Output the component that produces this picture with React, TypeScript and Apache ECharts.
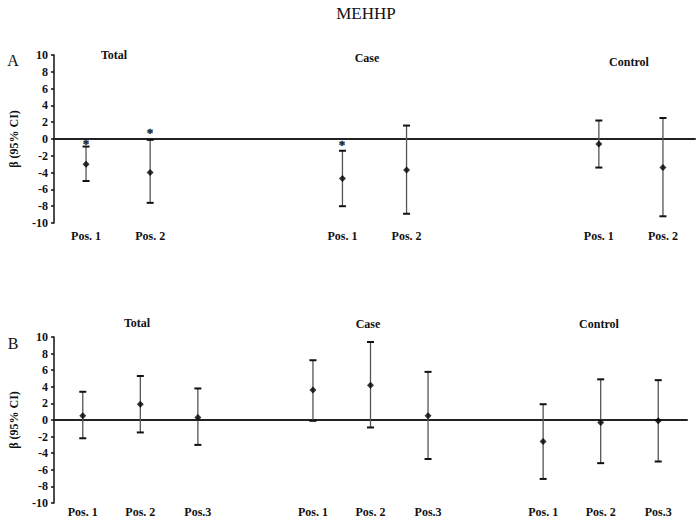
import React, { useEffect, useRef } from "react";
import * as echarts from "echarts";

const FONT = '"Liberation Serif", "Times New Roman", serif';

// Panel A
const catA = ["Pos. 1", "Pos. 2", "", "", "Pos. 1", "Pos. 2", "", "", "Pos. 1", "Pos. 2"];
const idxA = [0, 1, 4, 5, 8, 9];
const betaA = [-3.0, -4.0, -4.7, -3.7, -0.6, -3.4];
const lowA = [-5.0, -7.6, -8.0, -8.9, -3.4, -9.2];
const highA = [-0.9, -0.1, -1.4, 1.6, 2.2, 2.5];
const starA: (number | null)[] = [-0.45, 0.8, -0.55, null, null, null];

// Panel B
const catB = ["Pos. 1", "Pos. 2", "Pos.3", "", "Pos. 1", "Pos. 2", "Pos.3", "", "Pos. 1", "Pos. 2", "Pos.3"];
const idxB = [0, 1, 2, 4, 5, 6, 8, 9, 10];
const betaB = [0.5, 1.9, 0.3, 3.6, 4.2, 0.5, -2.6, -0.3, -0.1];
const lowB = [-2.2, -1.5, -3.0, -0.1, -0.9, -4.7, -7.1, -5.2, -5.0];
const highB = [3.4, 5.3, 3.8, 7.2, 9.4, 5.8, 1.9, 4.9, 4.8];
const starB: (number | null)[] = [null, null, null, null, null, null, null, null, null];

const groups = ["Total", "Case", "Control"];
const yTicks = { min: -10, max: 10, interval: 2 };

function errSeries(gi: number, idx: number[], low: number[], high: number[], star: (number | null)[]) {
  return {
    type: "custom",
    xAxisIndex: gi * 2,
    yAxisIndex: gi,
    encode: { x: 0, y: [1, 2] },
    itemStyle: { color: "#222" },
    data: idx.map((x, i) => [x, low[i], high[i], star[i] == null ? NaN : star[i]]),
    renderItem: (params: any, api: any) => {
      const x = api.value(0);
      const lo = api.coord([x, api.value(1)]);
      const hi = api.coord([x, api.value(2)]);
      const hw = 3.5;
      const children: any[] = [
        { type: "line", shape: { x1: lo[0], y1: lo[1], x2: hi[0], y2: hi[1] }, style: { stroke: "#555", lineWidth: 1.3 } },
        { type: "line", shape: { x1: lo[0] - hw, y1: lo[1], x2: lo[0] + hw, y2: lo[1] }, style: { stroke: "#111", lineWidth: 2 } },
        { type: "line", shape: { x1: hi[0] - hw, y1: hi[1], x2: hi[0] + hw, y2: hi[1] }, style: { stroke: "#111", lineWidth: 2 } },
      ];
      const s = api.value(3);
      if (!isNaN(s)) {
        const p = api.coord([x, s]);
        children.push({
          type: "text",
          x: Math.round(p[0]),
          y: Math.round(p[1]),
          style: {
            text: "*",
            font: `bold 13px ${FONT}`,
            fill: "#222",
            stroke: "#222",
            lineWidth: 0.4,
            opacity: 0.99,
            align: "center",
            verticalAlign: "middle",
          },
        });
      }
      return { type: "group", children };
    },
    z: 2,
  };
}

function pointSeries(gi: number, idx: number[], beta: number[]) {
  return {
    type: "scatter",
    xAxisIndex: gi * 2,
    yAxisIndex: gi,
    symbol: "diamond",
    symbolSize: 7,
    itemStyle: { color: "#000" },
    data: idx.map((x, i) => [x, beta[i]]),
    z: 3,
  };
}

function xAxes(gi: number, cats: string[]) {
  return [
    {
      type: "category",
      gridIndex: gi,
      data: cats.map((_, i) => String(i)),
      boundaryGap: true,
      axisLine: { show: true, onZero: true, lineStyle: { color: "#222", width: 2 } },
      axisTick: { show: false },
      axisLabel: { show: false },
      splitLine: { show: false },
    },
    {
      type: "category",
      gridIndex: gi,
      position: "bottom",
      data: cats.map((_, i) => String(i)),
      boundaryGap: true,
      axisLine: { show: false, onZero: false },
      axisTick: { show: false },
      axisLabel: {
        show: true,
        interval: 0,
        margin: gi === 0 ? 7 : 3,
        formatter: (_v: string, i: number) => cats[i],
        fontFamily: FONT,
        fontWeight: "bold",
        fontSize: 12,
        color: "#111",
      },
      splitLine: { show: false },
    },
  ];
}

function yAxis(gi: number) {
  return {
    type: "value",
    gridIndex: gi,
    min: yTicks.min,
    max: yTicks.max,
    interval: yTicks.interval,
    name: "β (95% CI)",
    nameLocation: "middle",
    nameGap: 34,
    nameTextStyle: { fontFamily: FONT, fontWeight: "bold", fontSize: 12, color: "#111" },
    axisLine: { show: true, lineStyle: { color: "#111", width: 1.5 } },
    axisTick: { show: true, length: 3, lineStyle: { color: "#111", width: 1.5 } },
    axisLabel: { fontFamily: FONT, fontWeight: "bold", fontSize: 12, color: "#111", margin: 6 },
    splitLine: { show: false },
  };
}

function txt(text: string, x: number, y: number, font: string) {
  return {
    type: "text",
    x,
    y,
    style: { text, font, fill: "#111", align: "center", verticalAlign: "middle", textAlign: "center", textVerticalAlign: "middle" },
  };
}

export default function App() {
  const ref = useRef<HTMLDivElement>(null);
  useEffect(() => {
    document.body.style.margin = "0";
    const chart = echarts.init(ref.current!, null, { renderer: "svg" });
    const bold = `bold 12px ${FONT}`;
    chart.setOption({
      animation: false,
      backgroundColor: "#fff",
      grid: [
        { left: 52, top: 55, width: 643, height: 168 },
        { left: 52, top: 337, width: 635, height: 166 },
      ],
      xAxis: [...xAxes(0, catA), ...xAxes(1, catB)],
      yAxis: [yAxis(0), yAxis(1)],
      series: [
        errSeries(0, idxA, lowA, highA, starA),
        pointSeries(0, idxA, betaA),
        errSeries(1, idxB, lowB, highB, starB),
        pointSeries(1, idxB, betaB),
      ],
      graphic: [
        txt("MEHHP", 366, 13, `17px ${FONT}`),
        txt("A", 13, 60, `16px ${FONT}`),
        txt("B", 13, 343, `16px ${FONT}`),
        txt(groups[0], 114, 55, bold),
        txt(groups[1], 367, 58, bold),
        txt(groups[2], 629, 62, bold),
        txt(groups[0], 137, 323, bold),
        txt(groups[1], 368, 324, bold),
        txt(groups[2], 599, 324, bold),
      ],
    });
    return () => chart.dispose();
  }, []);
  return <div ref={ref} style={{ width: 697, height: 522 }} />;
}
